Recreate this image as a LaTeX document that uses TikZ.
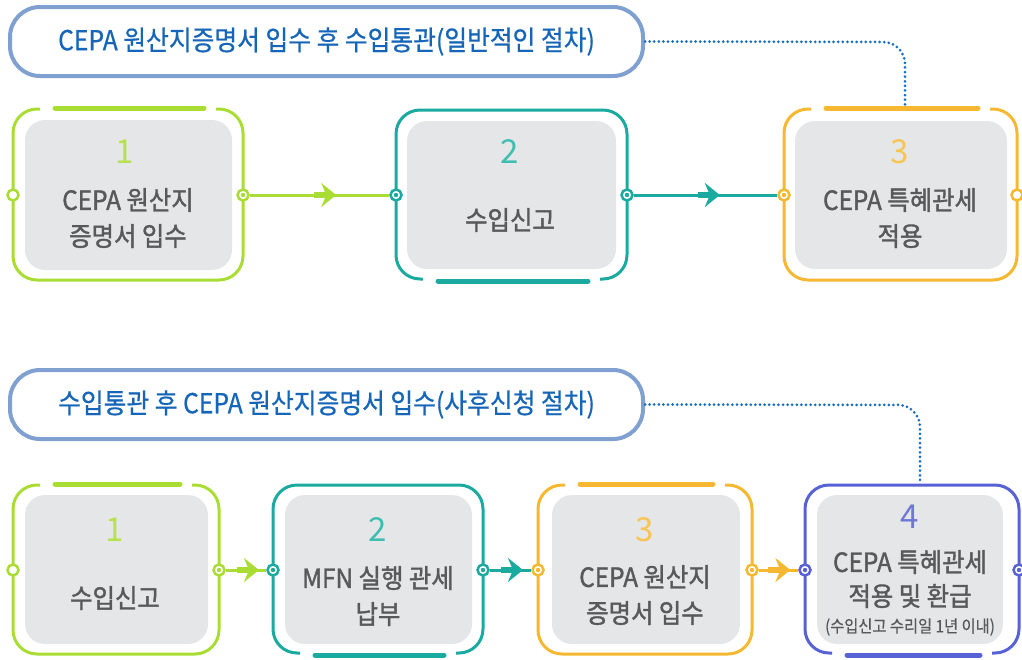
\documentclass[tikz,border=0pt]{standalone}
\usepackage{fontspec}
\setmainfont{Noto Sans CJK KR}
\newfontfamily\headfont{Noto Sans CJK KR}[FakeStretch=0.9, FakeBold=0.6]
\newfontfamily\stepfont{Noto Sans CJK KR}[FakeStretch=0.92, FakeBold=1.4]
\newfontfamily\notefont{Noto Sans CJK KR}[FakeStretch=0.9, FakeBold=0.4]
\usepackage{xcolor}
\usepackage{tikz}
\usetikzlibrary{arrows.meta}
\usetikzlibrary{decorations.markings}

\definecolor{cgreen}{RGB}{170,221,52}
\definecolor{cteal}{RGB}{27,170,160}
\definecolor{cyellow}{RGB}{246,184,48}
\definecolor{cblue}{RGB}{88,98,212}
\definecolor{ngreen}{RGB}{184,225,78}
\definecolor{nteal}{RGB}{62,190,177}
\definecolor{nyellow}{RGB}{249,196,80}
\definecolor{nblue}{RGB}{110,118,216}
\definecolor{chead}{RGB}{128,160,210}
\definecolor{ctitle}{RGB}{21,101,184}
\definecolor{cdots}{RGB}{26,110,192}
\definecolor{cinner}{RGB}{229,230,232}
\definecolor{ctext}{RGB}{88,89,91}

\tikzset{
  stepframe/.style={line width=3pt, rounded corners=24pt},
  stepbar/.style={line width=5pt, line cap=round},
  headbox/.style={draw=chead, line width=4pt, rounded corners=30pt, fill=white,
    minimum width=633pt, minimum height=69pt, text=ctitle,
    font=\headfont\fontsize{27.5}{30}\selectfont},
  inbox/.style={fill=cinner, rounded corners=20pt, inner sep=0pt},
  numtxt/.style={font=\fontsize{33}{36}\selectfont},
  boxtxt/.style={text=ctext, align=center, font=\stepfont\fontsize{26.5}{36}\selectfont},
  smalltxt/.style={text=ctext, font=\notefont\fontsize{17}{18}\selectfont},
  portring/.style={circle, draw=#1, fill=white, line width=2.5pt, inner sep=0pt, minimum size=11pt},
  portdot/.style={portring=#1, path picture={\fill[#1] (path picture bounding box.center) circle (2.2pt);}},
  link/.style={line width=3pt},
  arrowat/.style={postaction={decorate}, decoration={markings, mark=at position #1 with {
    \fill (-22pt,-3pt) rectangle (-8pt,3pt);
    \arrow{Stealth[length=15pt,width=24pt,inset=5pt]}}}},
  dotlink/.style={draw=cdots, line width=3pt, line cap=round, dash pattern=on 0pt off 4.6pt, rounded corners=22pt}
}

% frame with the gap at the top / at the bottom
\newcommand{\topframe}[5]{%
  \draw[stepframe, #5] ({#1+27},#2) -- (#1,#2) -- (#1,#4) -- (#3,#4) -- (#3,#2) -- ({#3-27},#2);
  \draw[stepbar, #5] ({#1+42},{#2-1}) -- ({#3-39},{#2-1});}
\newcommand{\botframe}[5]{%
  \draw[stepframe, #5] ({#1+27},#4) -- (#1,#4) -- (#1,#2) -- (#3,#2) -- (#3,#4) -- ({#3-27},#4);
  \draw[stepbar, #5] ({#1+42},{#4+2}) -- ({#3-39},{#4+2});}

\begin{document}
\begin{tikzpicture}[x=1pt,y=-1pt]
    \useasboundingbox (0,0) rectangle (1022,659);

    % general procedure
    \node[headbox] (hd1) at (326.5,41.5) {CEPA 원산지증명서 입수 후 수입통관(일반적인 절차)};

    \topframe{13}{109}{243}{280}{cgreen}
    \botframe{396}{110}{627}{279}{cteal}
    \topframe{784}{109}{1017}{280}{cyellow}

    \node[inbox, minimum width=207pt, minimum height=150pt] (a1) at (128.5,195) {};
    \node[inbox, minimum width=209pt, minimum height=148pt] (a2) at (511.5,195) {};
    \node[inbox, minimum width=212pt, minimum height=148pt] (a3) at (901,195) {};

    \node[numtxt, text=ngreen] (an1) at (125,152) {1};
    \node[numtxt, text=nteal] (an2) at (510,152) {2};
    \node[numtxt, text=nyellow] (an3) at (900,152) {3};
    \node[boxtxt] (at1) at (128,218) {CEPA 원산지\\증명서 입수};
    \node[boxtxt] (at2) at (510,220) {수입신고};
    \node[boxtxt] (at3) at (900,218) {CEPA 특혜관세\\적용};

    \node[portring=cgreen] (a1l) at (13,195) {};
    \node[portdot=cgreen] (a1r) at (243,195) {};
    \node[portdot=cteal] (a2l) at (396,195) {};
    \node[portdot=cteal] (a2r) at (627,195) {};
    \node[portdot=cyellow] (a3l) at (784,195) {};
    \node[portring=cyellow] (a3r) at (1017,195) {};

    \draw[link, cgreen, arrowat=0.62] (a1r) -- (a2l);
    \draw[link, cteal, arrowat=0.6] (a2r) -- (a3l);

    \coordinate (a3top) at (905,107);
    \draw[dotlink] (hd1.east) -- (905,42) -- (a3top);

    % post-import application
    \node[headbox] (hd2) at (326.5,404.5) {수입통관 후 CEPA 원산지증명서 입수(사후신청 절차)};

    \topframe{13}{485}{219}{654}{cgreen}
    \botframe{273}{485}{483}{653}{cteal}
    \topframe{538}{485}{752}{654}{cyellow}
    \botframe{805}{485}{1019}{653}{cblue}

    \node[inbox, minimum width=183pt, minimum height=149pt] (b1) at (116.5,569.5) {};
    \node[inbox, minimum width=187pt, minimum height=149pt] (b2) at (378.5,569.5) {};
    \node[inbox, minimum width=188pt, minimum height=149pt] (b3) at (646,569.5) {};
    \node[inbox, minimum width=186pt, minimum height=149pt] (b4) at (910,569.5) {};

    \node[numtxt, text=ngreen] (bn1) at (115,530) {1};
    \node[numtxt, text=nteal] (bn2) at (378,530) {2};
    \node[numtxt, text=nyellow] (bn3) at (645,530) {3};
    \node[numtxt, text=nblue] (bn4) at (910,517) {4};
    \node[boxtxt] (bt1) at (115,598) {수입신고};
    \node[boxtxt] (bt2) at (378,596) {MFN 실행 관세\\납부};
    \node[boxtxt] (bt3) at (645,595) {CEPA 원산지\\증명서 입수};
    \node[boxtxt, font=\stepfont\fontsize{26.5}{34}\selectfont] (bt4) at (910,579) {CEPA 특혜관세\\적용 및 환급};
    \node[smalltxt] (bs4) at (910,627) {(수입신고 수리일 1년 이내)};

    \node[portring=cgreen] (b1l) at (13,570) {};
    \node[portdot=cgreen] (b1r) at (219,570) {};
    \node[portdot=cteal] (b2l) at (273,570) {};
    \node[portdot=cteal] (b2r) at (483,570) {};
    \node[portdot=cyellow] (b3l) at (538,570) {};
    \node[portdot=cyellow] (b3r) at (752,570) {};
    \node[portdot=cblue] (b4l) at (805,570) {};
    \node[portdot=cblue] (b4r) at (1019,570) {};

    \draw[link, cgreen, arrowat=0.82] (b1r) -- (b2l);
    \draw[link, cteal, arrowat=0.8] (b2r) -- (b3l);
    \draw[link, cyellow, arrowat=0.8] (b3r) -- (b4l);

    \coordinate (b4top) at (920,482);
    \draw[dotlink] (hd2.east) -- (920,405) -- (b4top);
\end{tikzpicture}
\end{document}
